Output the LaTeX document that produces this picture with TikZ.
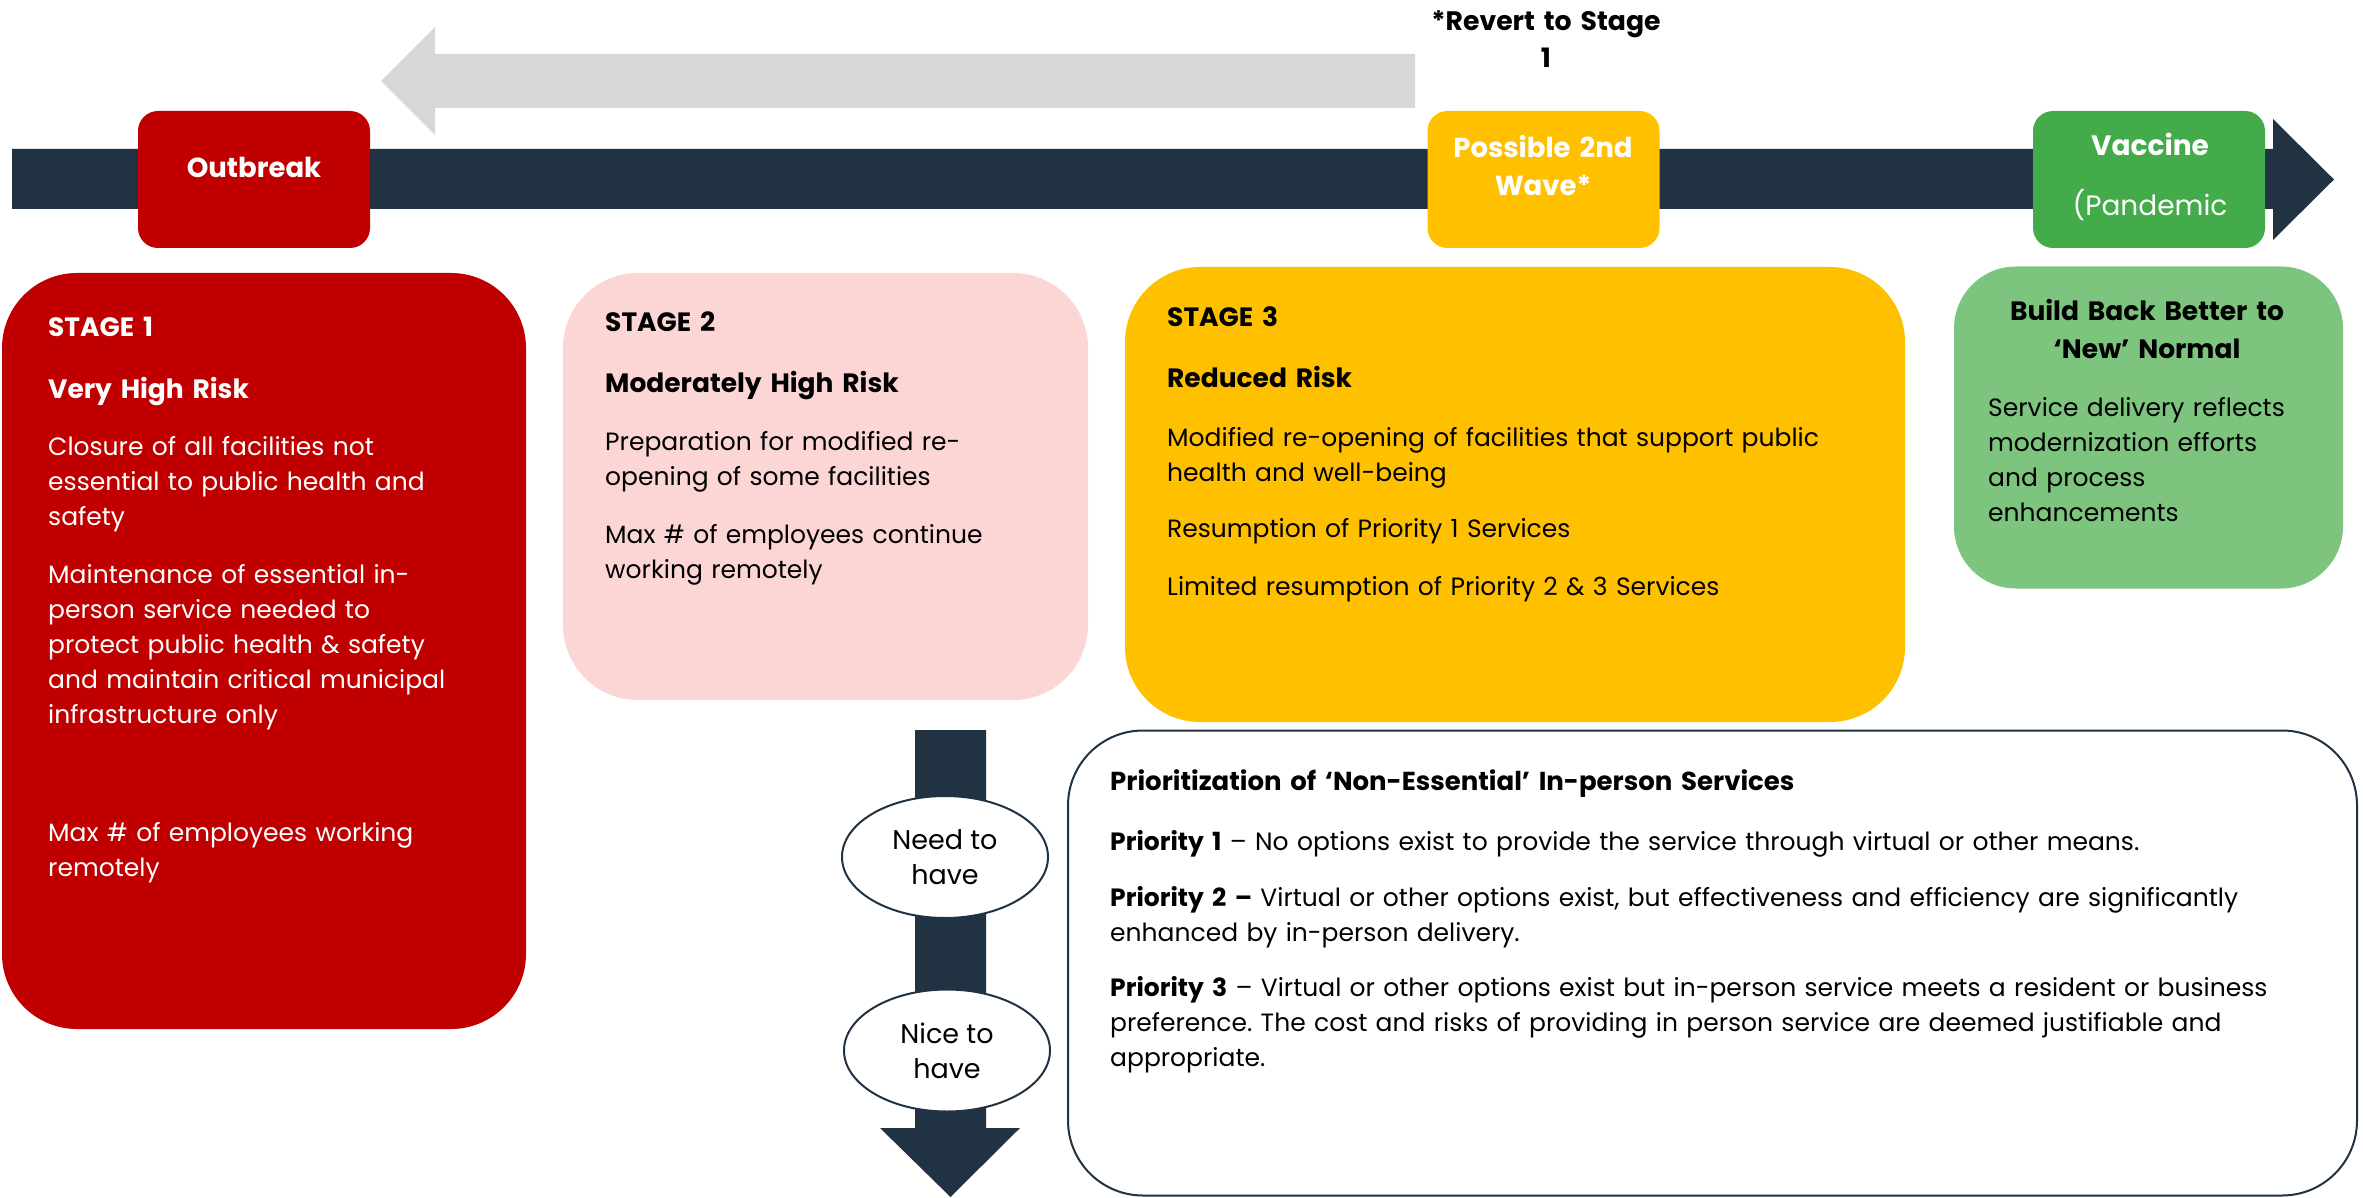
\documentclass[tikz,border=0pt]{standalone}
\usepackage{fontspec}
\setmainfont{Poppins}
\usetikzlibrary{shapes.geometric}
\definecolor{navy}{RGB}{33,50,67}
\definecolor{sred}{RGB}{192,0,0}
\definecolor{spink}{RGB}{252,213,213}
\definecolor{samber}{RGB}{255,192,0}
\definecolor{vgreen}{RGB}{67,171,74}
\definecolor{lgreen}{RGB}{125,196,127}
\definecolor{agray}{RGB}{216,214,215}
\newcommand{\dgbody}{\fontsize{25}{35}\selectfont\frenchspacing}
\newcommand{\dghead}{\fontsize{26.5}{37}\selectfont\bfseries}
\newcommand{\dgmark}{\fontsize{27.5}{37}\selectfont\bfseries}
\begin{document}
\begin{tikzpicture}[x=1pt,y=-1pt,
  stagebox/.style={draw=none, rounded corners=75pt, inner sep=0pt},
  markbox/.style={draw=none, rounded corners=20pt, inner sep=0pt, minimum width=232pt, minimum height=137pt},
  txt/.style={inner sep=0pt, anchor=base west, align=left, text width=#1, font=\dgbody},
  txt/.default=700pt,
  ctxt/.style={inner sep=0pt, anchor=base, align=center, text width=#1, font=\dgbody},
  ctxt/.default=300pt,
  pill/.style={ellipse, draw=navy, line width=2pt, fill=white, minimum width=206pt, minimum height=122pt, inner sep=0pt, align=center, font=\fontsize{27}{35}\selectfont}
]
\useasboundingbox (0,0) rectangle (2363,1198);

% timeline bar with arrow head
\fill[navy] (12,149) -- (2273,149) -- (2273,119) -- (2334,179.5) -- (2273,240) -- (2273,209) -- (12,209) -- cycle;
% revert arrow
\fill[agray] (1415,54) -- (435,54) -- (435,27) -- (381,81) -- (435,135) -- (435,108) -- (1415,108) -- cycle;

\node[ctxt=320pt, font=\fontsize{26.7}{37}\selectfont\bfseries, text=black] (revert) at (1546,31) {*Revert to Stage\\1};

% markers on timeline
\node[markbox, fill=sred] (outbreak) at (254,179.5) {};
\node[ctxt=225pt, font=\dgmark, text=white] (outbreaklbl) at (254,178) {Outbreak};
\node[markbox, fill=samber] (wave) at (1543.5,179.5) {};
\node[ctxt=225pt, font=\dgmark, text=white] (wavelbl) at (1543,158) {Possible 2nd\\[1pt]Wave*};
\node[markbox, fill=vgreen] (vaccine) at (2149,179.5) {};
\node[ctxt=225pt, font=\fontsize{28}{37}\selectfont, text=white] (vaccinelbl) at (2150,156) {\textbf{Vaccine}\\[23pt](Pandemic};

% stage boxes
\node[stagebox, fill=sred, minimum width=524pt, minimum height=756pt] (stage1) at (264,651) {};
\node[stagebox, fill=spink, minimum width=525pt, minimum height=427pt] (stage2) at (825.5,486.5) {};
\node[stagebox, fill=samber, minimum width=780pt, minimum height=455pt] (stage3) at (1515,494.5) {};
\node[stagebox, rounded corners=62pt, fill=lgreen, minimum width=389pt, minimum height=322pt] (build) at (2148.5,427.5) {};

% stage 1 text
\begin{scope}[text=white]
\node[txt=470pt, font=\dghead] (s1a) at (48,336) {STAGE 1};
\node[txt=470pt, font=\dghead] (s1b) at (48,398) {Very High Risk};
\node[txt=470pt] (s1c) at (48,455) {Closure of all facilities not\\essential to public health and\\safety};
\node[txt=470pt] (s1d) at (48,583) {Maintenance of essential in-\\person service needed to\\protect public health \& safety\\and maintain critical municipal\\infrastructure only};
\node[txt=470pt] (s1e) at (48,841) {Max \# of employees working\\remotely};
\end{scope}

% stage 2 text
\node[txt=470pt, font=\dghead] (s2a) at (605,331) {STAGE 2};
\node[txt=470pt, font=\dghead] (s2b) at (605,392) {Moderately High Risk};
\node[txt=470pt] (s2c) at (605,450) {Preparation for modified re-\\opening of some facilities};
\node[txt=470pt] (s2d) at (605,543) {Max \# of employees continue\\working remotely};

% stage 3 text
\node[txt=720pt, font=\dghead] (s3a) at (1167,326) {STAGE 3};
\node[txt=720pt, font=\dghead] (s3b) at (1167,387) {Reduced Risk};
\node[txt=720pt] (s3c) at (1167,446) {Modified re-opening of facilities that support public\\health and well-being};
\node[txt=720pt] (s3d) at (1167,537) {Resumption of Priority 1 Services};
\node[txt=720pt] (s3e) at (1167,595) {Limited resumption of Priority 2 \& 3 Services};

% build back text
\node[ctxt=380pt, font=\dghead] (b1) at (2147,320) {Build Back Better to\\[1pt]‘New’ Normal};
\node[txt=350pt] (b2) at (1988,416) {Service delivery reflects\\modernization efforts\\and process\\enhancements};

% priority arrow
\fill[navy] (915,730) -- (986,730) -- (986,1128) -- (1020,1128) -- (950.5,1197) -- (880,1128) -- (915,1128) -- cycle;
\node[pill] (need) at (945,857) {Need to\\have};
\node[pill] (nice) at (947,1050.5) {Nice to\\have};

% priority box
\node[draw=navy, line width=2pt, rounded corners=75pt, fill=white, minimum width=1289pt, minimum height=465pt, inner sep=0pt] (prio) at (1712.5,963) {};
\node[txt=1230pt, font=\fontsize{26}{35}\selectfont\bfseries] (p0) at (1110,790) {Prioritization of ‘Non-Essential’ In-person Services};
\node[txt=1230pt] (p1) at (1110,850) {\textbf{Priority 1} – No options exist to provide the service through virtual or other means.};
\node[txt=1230pt] (p2) at (1110,906) {\textbf{Priority 2 –} Virtual or other options exist, but effectiveness and efficiency are significantly\\enhanced by in-person delivery.};
\node[txt=1230pt] (p3) at (1110,996) {\textbf{Priority 3} – Virtual or other options exist but in-person service meets a resident or business\\preference. The cost and risks of providing in person service are deemed justifiable and\\appropriate.};
\end{tikzpicture}
\end{document}
